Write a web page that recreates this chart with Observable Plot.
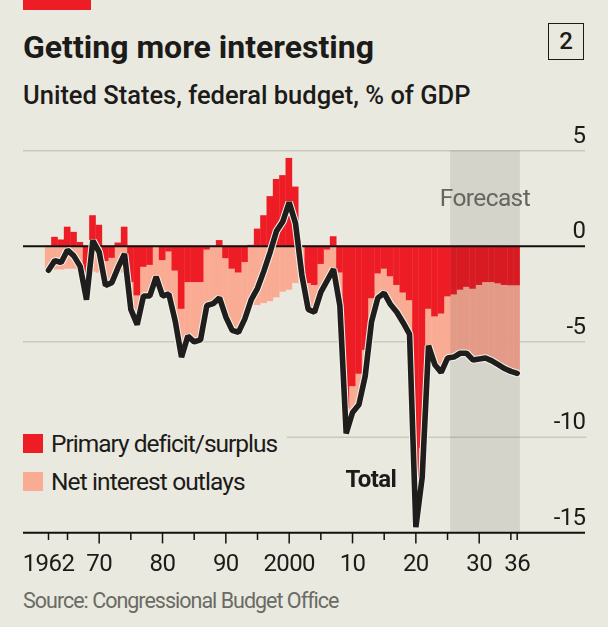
<!DOCTYPE html>
<html><head><meta charset="utf-8">
<script src="https://cdn.jsdelivr.net/npm/d3@7"></script>
<script src="https://cdn.jsdelivr.net/npm/@observablehq/plot@0.6"></script>
<style>
html,body{margin:0;padding:0;background:#e9e9df;}
body{width:608px;height:627px;position:relative;overflow:hidden;font-family:Roboto,sans-serif;color:#1c1b19;}
.t{position:absolute;white-space:nowrap;transform-origin:left top;z-index:2;}
#plot{position:absolute;left:0;top:130px;z-index:1;}
.sw{position:absolute;left:23px;width:19.5px;height:19.5px;z-index:2;}
</style></head><body>
<div class="t" style="left:23px;top:0;width:68px;height:10px;background:#ee1c25"></div>
<div class="t" id="title" style="left:23px;top:28px;font-size:32px;line-height:38px;font-weight:700;">Getting more interesting</div>
<div class="t" id="sub" style="left:23px;top:80px;font-size:25.5px;line-height:30px;font-weight:500;">United States, federal budget, % of GDP</div>
<div class="t" style="left:548px;top:23px;width:34px;height:35px;border:1.5px solid #1c1b19;text-align:center;font-size:24px;line-height:35px;font-weight:500;">2</div>
<div class="sw" style="top:433.5px;background:#ee1c25"></div>
<div class="sw" style="top:471.5px;background:#faab94"></div>
<div class="t" id="l1" style="left:51px;top:430px;font-size:24.5px;line-height:28px;letter-spacing:-1px;">Primary deficit/surplus</div>
<div class="t" id="l2" style="left:51px;top:468px;font-size:24.5px;line-height:28px;letter-spacing:-0.9px;">Net interest outlays</div>
<div class="t" id="src" style="left:23px;top:588px;font-size:21.5px;line-height:26px;color:#6b6b66;letter-spacing:-1px;">Source: Congressional Budget Office</div>
<div id="plot"></div>
<script>
const years = d3.range(1962, 2037);
const primary = [
 -0.05,0.47,0.33,1.0,0.73,0.2,-1.5,1.6,1.1,-0.8,
 -0.63,0.17,1.0,-1.9,-2.6,-1.1,-1.0,0.0,-0.75,-0.3,
 -1.3,-3.3,-1.9,-1.9,-1.9,-0.2,0.0,0.3,-0.65,-1.2,
 -1.4,-0.85,0.05,0.9,1.6,2.6,3.5,3.7,4.6,3.1,
 -0.05,-1.95,-2.05,-0.95,-0.2,0.5,-1.4,-8.5,-7.35,-6.7,
 -5.45,-2.75,-1.45,-1.2,-1.6,-2.05,-2.45,-2.85,-13.1,-10.6,
 -3.3,-3.7,-3.55,-2.65,-2.55,-2.3,-2.15,-2.25,-2.05,-1.9,
 -1.9,-1.97,-2.05,-2.07,-2.07];
const interest = [
 -1.2,-1.24,-1.24,-1.2,-1.2,-1.25,-1.3,-1.35,-1.4,-1.25,
 -1.27,-1.3,-1.4,-1.4,-1.5,-1.5,-1.6,-1.6,-1.85,-2.2,
 -2.6,-2.5,-2.8,-3.1,-3.0,-2.9,-3.0,-3.0,-3.05,-3.2,
 -3.1,-2.95,-2.85,-3.1,-3.0,-2.9,-2.7,-2.4,-2.3,-1.95,
 -1.45,-1.35,-1.4,-1.45,-1.6,-1.7,-1.7,-1.3,-1.35,-1.6,
 -1.35,-1.2,-1.25,-1.25,-1.45,-1.4,-1.55,-1.75,-1.6,-1.5,
 -1.9,-2.5,-3.05,-3.2,-3.25,-3.3,-3.45,-3.7,-3.85,-3.95,
 -4.1,-4.23,-4.35,-4.48,-4.58];
const total = [
 -1.25,-0.75,-0.85,-0.2,-0.5,-1.05,-2.8,0.3,-0.3,-2.05,
 -1.9,-1.1,-0.4,-3.3,-4.1,-2.6,-2.6,-1.6,-2.6,-2.5,
 -3.9,-5.8,-4.7,-5.0,-4.9,-3.1,-3.0,-2.7,-3.7,-4.4,
 -4.5,-3.8,-2.8,-2.2,-1.3,-0.3,0.8,1.3,2.3,1.2,
 -1.5,-3.3,-3.45,-2.4,-1.8,-1.2,-3.1,-9.8,-8.7,-8.3,
 -6.8,-3.95,-2.7,-2.45,-3.05,-3.45,-4.0,-4.6,-14.7,-12.1,
 -5.2,-6.2,-6.6,-5.85,-5.8,-5.6,-5.6,-5.95,-5.9,-5.85,
 -6.0,-6.2,-6.4,-6.55,-6.65];
const xLabels = [[1962,"1962"],[1970,"70"],[1980,"80"],[1990,"90"],[2000,"2000"],[2010,"10"],[2020,"20"],[2030,"30"],[2036,"36"]];
const minorTicks = [1962,1965,1975,1985,1995,2005,2015,2025,2035,2036];
const majorTicks = [1970,1980,1990,2000,2010,2020,2030];
const yLabels = [5,0,-5,-10,-15];
const table = years.map((year,i)=>({year, primary:primary[i], interest:interest[i], total:total[i]}));
const TXT = "#1c1b19", font = "Roboto, sans-serif";
const chart = Plot.plot({
  width:608, height:440,
  marginLeft:23, marginRight:23, marginTop:20.3, marginBottom:37.7,
  x:{domain:[1962,2036], range:[48,516.7], axis:null},
  y:{domain:[-15,5], axis:null},
  style:{background:"#e9e9df", overflow:"visible", letterSpacing:"-0.6px"},
  marks:[
    Plot.ruleY([5,-5],{stroke:"#c9c9bc",strokeWidth:1.5}),
    Plot.ruleY([-10],{x1:()=>1999.7,x2:()=>2047,stroke:"#c9c9bc",strokeWidth:1.5}),
    Plot.rectY(table,{x1:d=>d.year-0.5,x2:d=>d.year===2036?2036.5:d.year+0.55,y1:d=>Math.min(d.primary,0),y2:d=>Math.min(d.primary,0)+d.interest,fill:"#faab94"}),
    Plot.rectY(table,{x1:d=>d.year-0.5,x2:d=>d.year===2036?2036.5:d.year+0.55,y1:()=>0,y2:"primary",fill:"#ee1c25"}),
    Plot.rect([[2025.5,2036.5]],{x1:d=>d[0],x2:d=>d[1],y1:()=>5,y2:()=>-15,fill:"#e8e8e8",mixBlendMode:"multiply"}),
    Plot.ruleY([0],{stroke:"#111",strokeWidth:2}),
    Plot.ruleY([-15],{stroke:"#111",strokeWidth:2}),
    Plot.line(table,{x:"year",y:"total",stroke:"#f1f1e9",strokeWidth:7.7,strokeLinejoin:"bevel",curve:"linear"}),
    Plot.line(table,{x:"year",y:"total",stroke:"#1f1e1c",strokeWidth:5.6,strokeLinejoin:"bevel",curve:"linear"}),
    Plot.ruleX(minorTicks,{y1:()=>-15,y2:()=>-15.4,stroke:"#111",strokeWidth:1.5}),
    Plot.ruleX(majorTicks,{y1:()=>-15,y2:()=>-15.58,stroke:"#111",strokeWidth:1.5}),
    Plot.text(xLabels,{x:d=>d[0],y:()=>-15,text:d=>d[1],dy:38,fontSize:24,fill:TXT,fontFamily:font,lineAnchor:"bottom"}),
    Plot.text(yLabels,{y:d=>d,text:d=>String(d),frameAnchor:"right",textAnchor:"end",lineAnchor:"bottom",dy:-8,fontSize:24,fill:TXT,fontFamily:font}),
    Plot.text(["Forecast"],{x:()=>2030.9,y:()=>2.5,text:d=>d,fontSize:24.5,fill:"#666660",fontFamily:font}),
    Plot.text(["Total"],{x:()=>2012.9,y:()=>-12.2,text:d=>d,fontSize:24,fontWeight:700,fill:TXT,fontFamily:font})
  ]
});
document.getElementById("plot").appendChild(chart);
</script>
</body></html>
